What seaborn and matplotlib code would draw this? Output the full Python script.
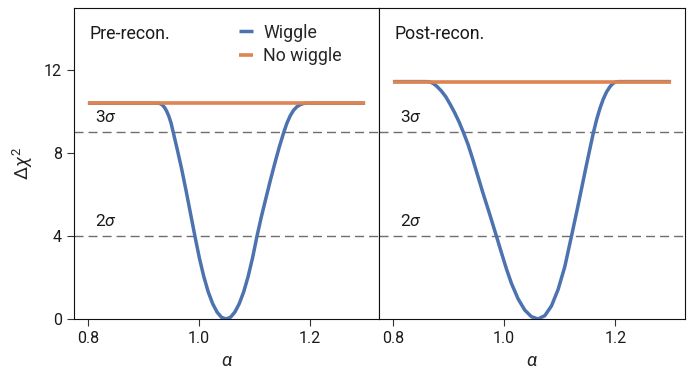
import matplotlib
matplotlib.use("Agg")
import matplotlib.pyplot as plt
import seaborn as sns
import pandas as pd

# ---- data ----
alpha_pre = [0.800, 0.926, 0.930, 0.934, 0.938, 0.942, 0.946, 0.950, 0.954, 0.961,
             0.969, 0.977, 0.985, 0.993, 1.001, 1.009, 1.017, 1.025, 1.033, 1.041,
             1.049, 1.057, 1.065, 1.073, 1.081, 1.089, 1.097, 1.105, 1.113, 1.121,
             1.129, 1.137, 1.145, 1.153, 1.159, 1.165, 1.171, 1.177, 1.183, 1.189,
             1.195, 1.300]
chi2_pre = [10.41, 10.41, 10.39, 10.33, 10.21, 10.03, 9.78, 9.45, 9.00, 8.20,
            7.25, 6.20, 5.10, 4.00, 2.95, 2.05, 1.31, 0.74, 0.33, 0.08,
            0.00, 0.08, 0.33, 0.74, 1.31, 2.05, 2.95, 4.00, 4.95, 5.82,
            6.68, 7.50, 8.28, 8.98, 9.45, 9.81, 10.07, 10.24, 10.34, 10.395,
            10.41, 10.41]

alpha_post = [0.800, 0.861, 0.867, 0.873, 0.879, 0.887, 0.895, 0.903, 0.911, 0.919,
              0.927, 0.935, 0.943, 0.952, 0.961, 0.974, 0.986, 0.995, 1.004, 1.013,
              1.025, 1.037, 1.049, 1.061, 1.073, 1.085, 1.097, 1.109, 1.121, 1.131,
              1.139, 1.147, 1.154, 1.160, 1.166, 1.172, 1.178, 1.184, 1.190, 1.195,
              1.200, 1.205, 1.300]
chi2_post = [11.45, 11.45, 11.43, 11.35, 11.22, 11.00, 10.72, 10.35, 9.95, 9.50,
             8.98, 8.42, 7.75, 6.95, 6.15, 5.05, 4.00, 3.20, 2.42, 1.72,
             0.97, 0.43, 0.11, 0.00, 0.16, 0.63, 1.43, 2.53, 4.00, 5.25,
             6.28, 7.32, 8.20, 8.95, 9.60, 10.15, 10.60, 10.95, 11.20, 11.35,
             11.43, 11.45, 11.45]

nowiggle_alpha = [0.8, 1.3]
nowiggle_pre = [10.41, 10.41]
nowiggle_post = [11.45, 11.45]

sigma_levels = [4, 9]
sigma_labels = ["2$\\sigma$", "3$\\sigma$"]
sigma_label_y = [4.72, 9.75]

panel_titles = ["Pre-recon.", "Post-recon."]
series_names = ["Wiggle", "No wiggle"]
xticks = [0.8, 1.0, 1.2]
xticklabels = ["0.8", "1.0", "1.2"]
yticks = [0, 4, 8, 12]
yticklabels = ["0", "4", "8", "12"]

# ---- style ----
sns.set_theme(style="ticks")
FONT = "Roboto"
plt.rcParams["font.family"] = [FONT, "DejaVu Sans"]
plt.rcParams["mathtext.fontset"] = "custom"
plt.rcParams["mathtext.rm"] = FONT
plt.rcParams["mathtext.it"] = FONT + ":italic"
plt.rcParams["mathtext.bf"] = FONT + ":bold"

blue = "#4C72B0"
orange = "#DD8452"
dash_col = "#6e6e6e"
txt = "#1a1a1a"

fig = plt.figure(figsize=(6.91, 3.72), dpi=100)
ax1 = fig.add_axes([0.1071, 0.1425, 0.4414, 0.8360])
ax2 = fig.add_axes([0.5485, 0.1425, 0.4428, 0.8360], sharey=ax1)

panels = [
    (ax1, alpha_pre, chi2_pre, nowiggle_pre),
    (ax2, alpha_post, chi2_post, nowiggle_post),
]

for i, (ax, a, c, nw) in enumerate(panels):
    df = pd.DataFrame({"alpha": a, "chi2": c})
    for lev in sigma_levels:
        ax.axhline(lev, color=dash_col, lw=1.0, ls=(0, (6.5, 3.6)), zorder=1)
    sns.lineplot(data=df, x="alpha", y="chi2", ax=ax, color=blue, lw=2.5,
                 label=series_names[0], sort=False, zorder=3,
                 solid_joinstyle="round", solid_capstyle="butt")
    sns.lineplot(x=nowiggle_alpha, y=nw, ax=ax, color=orange, lw=2.6,
                 label=series_names[1], zorder=4, solid_capstyle="butt")
    for lab, ly in zip(sigma_labels, sigma_label_y):
        ax.text(0.812, ly, lab, fontsize=12.5, ha="left", va="center", color=txt)
    ax.text(0.052, 0.900, panel_titles[i], transform=ax.transAxes, fontsize=12.8,
            ha="left", va="baseline", color=txt)
    ax.set_xlim(0.775, 1.325)
    ax.set_ylim(0, 15)
    ax.set_xticks(xticks)
    ax.set_xticklabels(xticklabels)
    ax.set_xlabel("$\\alpha$", fontsize=13.5, labelpad=4)
    ax.tick_params(axis="both", labelsize=11.5, length=4.8, width=0.8,
                   color="#333333", labelcolor=txt, pad=4)
    for s in ax.spines.values():
        s.set_visible(True)
        s.set_linewidth(0.8)
        s.set_color("#111111")
    leg = ax.get_legend()
    if leg is not None:
        leg.remove()

ax1.set_yticks(yticks)
ax1.set_yticklabels(yticklabels)
ax1.set_ylabel("$\\Delta\\chi^2$", fontsize=13.5, labelpad=6)
ax2.set_ylabel("")
ax2.tick_params(axis="y", left=False, labelleft=False)

handles, labels = ax1.get_legend_handles_labels()
ax1.legend(handles, labels, loc="upper left", bbox_to_anchor=(0.541, 0.95),
           frameon=False, borderpad=0, borderaxespad=0, handlelength=0.8,
           handletextpad=0.56, labelspacing=0.3, fontsize=12.8)

fig.savefig("out.png", dpi=100)
